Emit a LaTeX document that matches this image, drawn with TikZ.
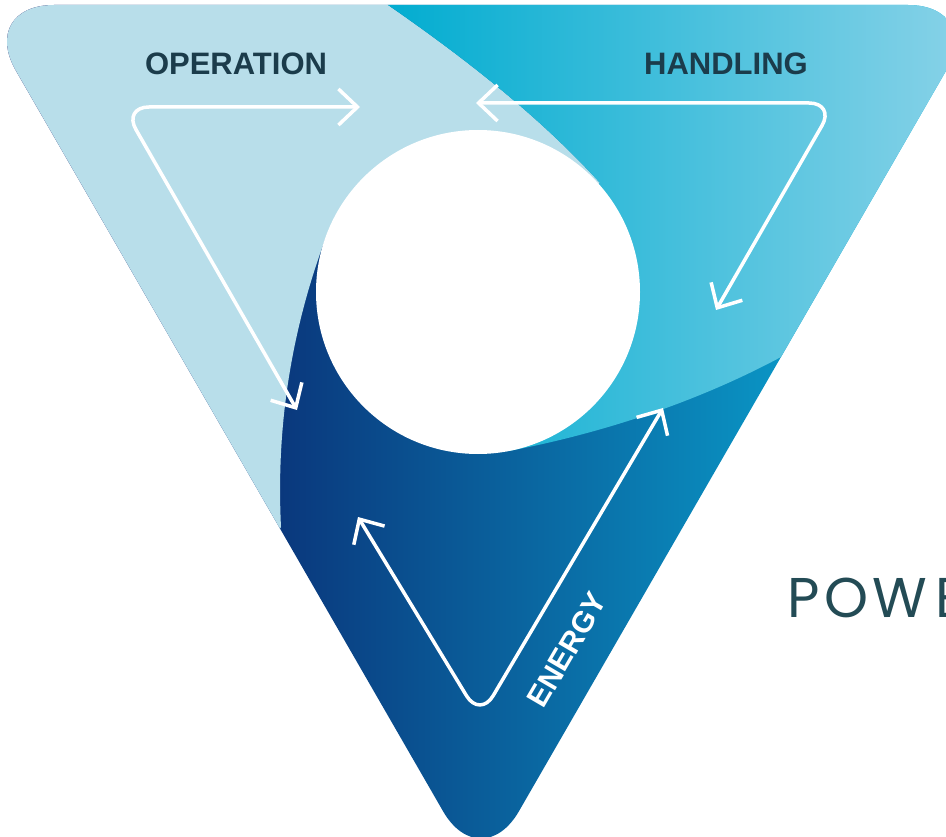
\documentclass[tikz,border=0pt]{standalone}
\usepackage{fontspec}
\setmainfont{Liberation Sans}
\newfontfamily\powfont{Poppins}
\usetikzlibrary{arrows.meta}
\definecolor{lightband}{RGB}{184,222,234}
\definecolor{cyanL}{RGB}{0,172,208}
\definecolor{cyanM}{RGB}{22,180,212}
\definecolor{cyanR}{RGB}{132,209,231}
\definecolor{navyL}{RGB}{10,0,82}
\definecolor{navyR}{RGB}{10,186,225}
\definecolor{labeltxt}{RGB}{27,60,75}
\definecolor{powtxt}{RGB}{35,75,85}
\tikzset{
  flowarrow/.style={draw=white, line width=3.5pt, rounded corners=26pt,
    {Straight Barb[length=19pt,width=36pt]}-{Straight Barb[length=19pt,width=36pt]}},
  bandlabel/.style={text=labeltxt, font=\bfseries\fontsize{31}{38}\selectfont, anchor=base, inner sep=0pt},
}
\begin{document}
\begin{tikzpicture}[x=1pt,y=-1pt]
\useasboundingbox (0,0) rectangle (946,837);
\clip (0,0) rectangle (946,837);
% triangle body with three bands
\begin{scope}
  \clip[rounded corners=76pt] (481,5) -- (984,5) -- (481,877) -- (-22,5) -- cycle;
  \shade[left color=navyL, right color=navyR] (-22,-10) rectangle (984,890);
  \begin{scope}
    \clip (-100,-100) -- (363,-100) -- (363,-12) -- (388,5)
      .. controls (463,57) and (538,115) .. (600,183) -- (478,292) -- (326,237)
      .. controls (291,331) and (276,427) .. (281,527) -- (250,580) -- (-100,580) -- cycle;
    \fill[lightband] (-30,-10) rectangle (700,700);
  \end{scope}
  \begin{scope}
    \clip (363,-12) -- (388,5)
      .. controls (463,57) and (538,115) .. (600,183) -- (478,292) -- (509,451)
      .. controls (603,433) and (697,402) .. (781,357) -- (834,329) -- (1100,329)
      -- (1100,-100) -- (363,-100) -- cycle;
    \shade[left color=cyanL, middle color=cyanM, right color=cyanR] (380,-10) rectangle (950,470);
  \end{scope}
\end{scope}
% central hole
\node[circle, fill=white, minimum size=324pt, inner sep=0pt] (hub) at (478,292) {};
% arrows
\coordinate (opA) at (360,107);
\coordinate (opC) at (123,107);
\coordinate (opB) at (297,410);
\coordinate (haA) at (476,103);
\coordinate (haC) at (835,103);
\coordinate (haB) at (716,310);
\coordinate (enA) at (358,517);
\coordinate (enC) at (480,718);
\coordinate (enB) at (663,408);
\draw[flowarrow] (opA) -- (opC) -- (opB);
\draw[flowarrow] (haA) -- (haC) -- (haB);
\draw[flowarrow] (enA) -- (enC) -- (enB);
% labels
\node[bandlabel] (op) at (236,75) {OPERATION};
\node[bandlabel] (ha) at (726,75) {HANDLING};
\node[text=white, font=\bfseries\fontsize{30}{36}\selectfont, inner sep=0pt, rotate=59.7] (en) at (567,650) {ENERGY};
\node[text=powtxt, font=\powfont\fontsize{56}{60}\selectfont, anchor=base west, inner sep=0pt] (pw) at (787,617) {P\kern5pt O\kern4pt W\kern8pt E};
\end{tikzpicture}
\end{document}
